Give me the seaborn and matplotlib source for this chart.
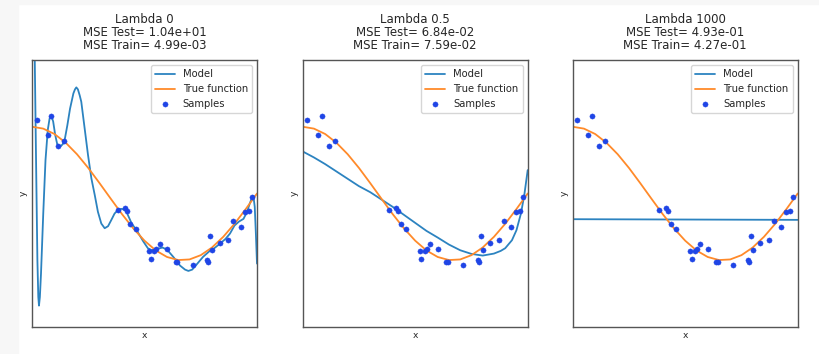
import matplotlib
matplotlib.use('Agg')
import matplotlib.pyplot as plt
from matplotlib.patches import Rectangle
import seaborn as sns

# values
lambdas = ['0', '0.5', '1000']
mse_test = ['1.04e+01', '6.84e-02', '4.93e-01']
mse_train = ['4.99e-03', '7.59e-02', '4.27e-01']

# noisy samples (same in all three panels)
sample_x = [0.021, 0.070, 0.086, 0.117, 0.142, 0.383, 0.414, 0.423, 0.435, 0.461,
            0.522, 0.528, 0.543, 0.552, 0.567, 0.601, 0.638, 0.645, 0.714, 0.777,
            0.782, 0.792, 0.801, 0.834, 0.871, 0.893, 0.927, 0.948, 0.964, 0.979]
sample_y = [1.095, 0.875, 1.160, 0.715, 0.790, -0.245, -0.215, -0.260, -0.450, -0.525,
            -0.865, -0.985, -0.865, -0.835, -0.760, -0.835, -1.025, -1.025, -1.070, -0.995,
            -1.030, -0.630, -0.850, -0.745, -0.690, -0.410, -0.500, -0.275, -0.265, -0.055]

# true function
true_x = [0.00, 0.05, 0.10, 0.15, 0.20, 0.25, 0.30, 0.35, 0.40, 0.45, 0.50,
          0.55, 0.60, 0.65, 0.70, 0.75, 0.80, 0.85, 0.90, 0.95, 1.00]
true_y = [1.000, 0.972, 0.891, 0.760, 0.588, 0.383, 0.156, -0.078, -0.309, -0.522, -0.707,
          -0.853, -0.951, -0.997, -0.988, -0.924, -0.809, -0.649, -0.454, -0.233, 0.000]

# model, lambda 0
model0_x = [0.000, 0.010, 0.018, 0.024, 0.028, 0.031, 0.035, 0.040, 0.050, 0.060,
            0.070, 0.078, 0.086, 0.094, 0.103, 0.112, 0.120, 0.128, 0.137, 0.145,
            0.157, 0.169, 0.184, 0.191, 0.197, 0.204, 0.212, 0.219, 0.234, 0.249,
            0.264, 0.279, 0.293, 0.308, 0.323, 0.338, 0.352, 0.367, 0.384, 0.400,
            0.418, 0.443, 0.465, 0.495, 0.515, 0.532, 0.555, 0.580, 0.600, 0.628,
            0.658, 0.680, 0.695, 0.712, 0.730, 0.760, 0.790, 0.810, 0.836, 0.860,
            0.880, 0.900, 0.920, 0.940, 0.955, 0.969, 0.978, 0.984, 0.990, 0.995, 1.000]
model0_y = [4.00, 2.60, 0.50, -1.00, -1.55, -1.68, -1.55, -1.20, -0.30, 0.50,
            0.95, 1.12, 1.16, 1.08, 0.88, 0.74, 0.70, 0.71, 0.74, 0.80,
            1.02, 1.27, 1.50, 1.56, 1.59, 1.56, 1.47, 1.375, 0.975, 0.575,
            0.225, -0.025, -0.275, -0.45, -0.52, -0.49, -0.40, -0.30, -0.24, -0.23,
            -0.26, -0.45, -0.55, -0.72, -0.82, -0.85, -0.83, -0.81, -0.84, -0.95,
            -1.08, -1.14, -1.16, -1.14, -1.07, -0.95, -0.86, -0.82, -0.75, -0.68,
            -0.60, -0.48, -0.42, -0.38, -0.28, -0.14, -0.06, -0.04, -0.20, -0.60, -1.05]

# model, lambda 0.5
model1_x = [0.00, 0.05, 0.10, 0.15, 0.20, 0.25, 0.30, 0.35, 0.40, 0.45, 0.50, 0.55,
            0.60, 0.65, 0.70, 0.75, 0.80, 0.85, 0.88, 0.90, 0.93, 0.95, 0.97, 0.985, 1.00]
model1_y = [0.63, 0.54, 0.44, 0.33, 0.22, 0.11, 0.02, -0.09, -0.20, -0.32, -0.44, -0.56,
            -0.66, -0.765, -0.85, -0.905, -0.93, -0.90, -0.86, -0.82, -0.70, -0.55, -0.30, -0.02, 0.35]

# model, lambda 1000
model2_x = [0.0, 0.5, 1.0]
model2_y = [-0.385, -0.39, -0.395]

model_x = [model0_x, model1_x, model2_x]
model_y = [model0_y, model1_y, model2_y]

sns.set_style('white')
plt.rcParams['font.family'] = ['DejaVu Sans']

W, H = 819, 354
fig = plt.figure(figsize=(W / 100, H / 100), dpi=100)
fig.patch.set_facecolor('white')
# light notebook margin
fig.patches.append(Rectangle((0, 0), 18 / W, 1, transform=fig.transFigure,
                             color='#f7f7f7', zorder=-1))
fig.patches.append(Rectangle((0, 1 - 4 / H), 1, 4 / H, transform=fig.transFigure,
                             color='#f7f7f7', zorder=-1))

lefts = [32, 302.7, 572.7]
for i in range(3):
    ax = fig.add_axes([lefts[i] / W, 27 / H, 225 / W, 267 / H])
    sns.lineplot(x=model_x[i], y=model_y[i], ax=ax, color='#2c83c0', lw=1.3,
                 label='Model', estimator=None)
    sns.lineplot(x=true_x, y=true_y, ax=ax, color='#ff8a2a', lw=1.3,
                 label='True function', estimator=None)
    sns.scatterplot(x=sample_x, y=sample_y, ax=ax, color='#1f45e6', edgecolor='#1f45e6',
                    s=14, label='Samples', zorder=3)
    ax.set_xlim(0, 1)
    ax.set_ylim(-2, 2)
    ax.set_xticks([])
    ax.set_yticks([])
    ax.set_xlabel('x', fontsize=6.6, labelpad=3)
    ax.set_ylabel('y', fontsize=6.6, labelpad=3)
    ax.set_title('Lambda %s\nMSE Test= %s\nMSE Train= %s' % (lambdas[i], mse_test[i], mse_train[i]),
                 fontsize=8.5, linespacing=1.0, pad=8)
    ax.legend(loc='upper right', fontsize=7.2)
    for sp in ax.spines.values():
        sp.set_color('#555555')
        sp.set_linewidth(1.0)

fig.savefig('out.png', dpi=100)
